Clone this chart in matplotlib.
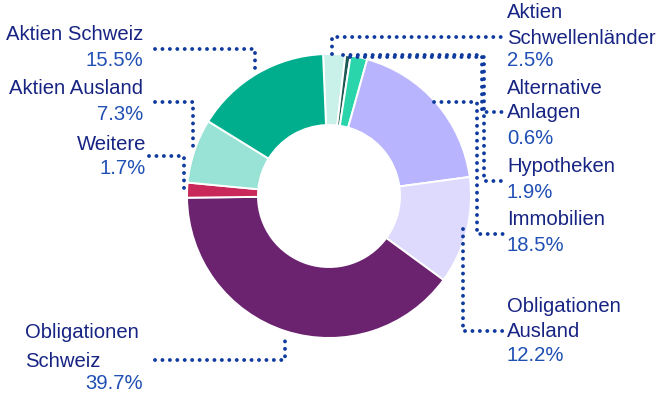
import matplotlib
matplotlib.use("Agg")
import matplotlib.pyplot as plt

# asset allocation, clockwise from the top
labels = ["Aktien Schwellenländer", "Alternative Anlagen", "Hypotheken", "Immobilien",
          "Obligationen Ausland", "Obligationen Schweiz", "Weitere", "Aktien Ausland",
          "Aktien Schweiz"]
values = [2.5, 0.6, 1.9, 18.5, 12.2, 39.7, 1.7, 7.3, 15.5]
colors = ["#C9F1EA", "#1E5A55", "#2AD5AC", "#B8B4FE", "#DEDAFE", "#6B2370",
          "#C8285A", "#98E3D5", "#00AE8E"]

NAME_C = "#172483"
PCT_C = "#1F4FB4"
DOT_C = "#0F3A9E"
FS = 14.6

W, H = 662, 402
fig = plt.figure(figsize=(W / 100, H / 100), dpi=100)
ax = fig.add_axes([0, 0, 1, 1])

cx, cy, R = 329, H - 197, 142
ax.pie(values, colors=colors, startangle=92.4, counterclock=False,
       center=(cx, cy), radius=R, frame=True,
       wedgeprops=dict(width=R * 0.5, edgecolor="white", linewidth=1.4))
ax.set_xlim(0, W)
ax.set_ylim(0, H)
ax.set_aspect("equal")
ax.axis("off")


def txt(x, y, s, color, ha):
    ax.text(x, H - y, s, color=color, ha=ha, va="center", fontsize=FS,
            family="Liberation Sans")


def leader(pts):
    xs = [p[0] for p in pts]
    ys = [H - p[1] for p in pts]
    ax.plot(xs, ys, color=DOT_C, lw=2.8, linestyle=(0, (0.01, 1.9)),
            dash_capstyle="round", solid_capstyle="round")


# left side labels
txt(143, 35, "Aktien Schweiz", NAME_C, "right")
txt(143, 61, "15.5%", PCT_C, "right")
txt(143, 89, "Aktien Ausland", NAME_C, "right")
txt(143, 115, "7.3%", PCT_C, "right")
txt(146, 145, "Weitere", NAME_C, "right")
txt(146, 169, "1.7%", PCT_C, "right")
txt(25, 333, "Obligationen", NAME_C, "left")
txt(25, 362, "Schweiz", NAME_C, "left")
txt(143, 384, "39.7%", PCT_C, "right")

# right side labels
txt(507, 13, "Aktien", NAME_C, "left")
txt(507, 38, "Schwellenländer", NAME_C, "left")
txt(507, 61, "2.5%", PCT_C, "left")
txt(507, 88, "Alternative", NAME_C, "left")
txt(507, 113, "Anlagen", NAME_C, "left")
txt(507, 139, "0.6%", PCT_C, "left")
txt(507, 167, "Hypotheken", NAME_C, "left")
txt(507, 193, "1.9%", PCT_C, "left")
txt(507, 220, "Immobilien", NAME_C, "left")
txt(507, 246, "18.5%", PCT_C, "left")
txt(507, 307, "Obligationen", NAME_C, "left")
txt(507, 332, "Ausland", NAME_C, "left")
txt(507, 356, "12.2%", PCT_C, "left")

# leader lines
leader([(155, 50), (255, 50), (255, 73)])
leader([(155, 103), (193, 103), (193, 153)])
leader([(149, 157), (184, 157), (184, 192)])
leader([(155, 361), (285, 361), (285, 336)])
leader([(332, 55), (332, 38), (503, 38)])
leader([(343, 56), (482, 56), (482, 113), (503, 113)])
leader([(350, 58), (484, 58), (484, 182), (503, 182)])
leader([(434, 103), (477, 103), (477, 235), (503, 235)])
leader([(463, 230), (463, 332), (503, 332)])

fig.savefig("out.png", dpi=100)
